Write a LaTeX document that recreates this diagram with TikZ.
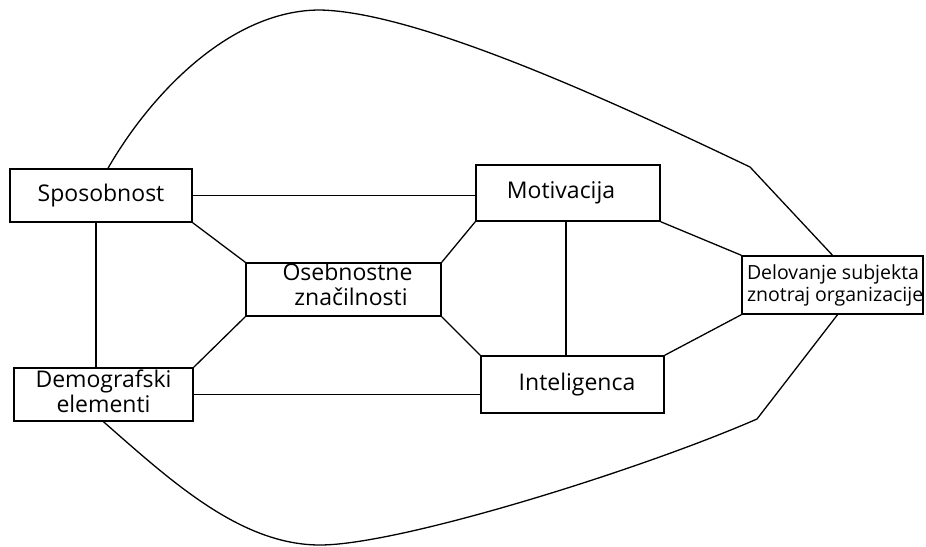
\documentclass[tikz,border=0pt]{standalone}
\usepackage{fontspec}
\setmainfont{Open Sans}
\newcommand{\dnsp}[1]{\rule[-#1]{0pt}{#1}}
\begin{document}
\begin{tikzpicture}[x=1pt,y=-1pt,
  box/.style={draw, line width=1.5pt, inner sep=0pt, align=center,
    font=\fontsize{23}{25}\selectfont},
  conn/.style={line width=1.3pt}]
\useasboundingbox (0,0) rectangle (926,546);
\node[box, minimum width=182pt, minimum height=53pt] (spo) at (101,195.5) {Sposobnost};
\node[box, minimum width=184pt, minimum height=56pt] (mot) at (568,193) {Motivacija\hspace*{14pt}};
\node[box, minimum width=195pt, minimum height=53pt] (ose) at (343.5,289.5)
  {\hspace*{8pt}Osebnostne\\\hspace*{15pt}značilnosti\dnsp{10pt}};
\node[box, minimum width=181pt, minimum height=58pt, font=\fontsize{19.5}{22}\selectfont] (del) at (832.5,285)
  {\makebox[171pt][l]{Delovanje subjekta}\\\makebox[171pt][l]{znotraj organizacije}};
\node[box, minimum width=179pt, minimum height=53pt] (dem) at (103.5,394.5)
  {Demografski\\elementi\dnsp{6pt}};
\node[box, minimum width=183pt, minimum height=57pt] (int) at (572.5,384.5) {\hspace*{9pt}Inteligenca};

\draw[conn] (spo.east) -- (spo.east -| mot.west);
\draw[conn] ([xshift=-5pt]spo.south) -- ([xshift=-5pt]spo.south |- dem.north);
\draw[conn] ([xshift=-2pt]mot.south) -- ([xshift=-2pt]mot.south |- int.north);
\draw[conn] (dem.east) -- (dem.east -| int.west);
\draw[conn] (spo.south east) -- (ose.north west);
\draw[conn] (mot.south west) -- (ose.north east);
\draw[conn] (ose.south west) -- (dem.north east);
\draw[conn] (ose.south east) -- (int.north west);
\draw[conn] (mot.south east) -- (del.north west);
\draw[conn] (int.north east) -- (del.south west);

\draw[conn] ([xshift=7pt]spo.north) .. controls (150,95) and (230,10) .. (320,10)
  .. controls (420,12) and (620,105) .. (750,167) -- (del.north);
\draw[conn] (dem.south) .. controls (170,480) and (240,545) .. (320,545)
  .. controls (400,545) and (640,470) .. (757,419) -- ([xshift=5pt]del.south);
\end{tikzpicture}
\end{document}
